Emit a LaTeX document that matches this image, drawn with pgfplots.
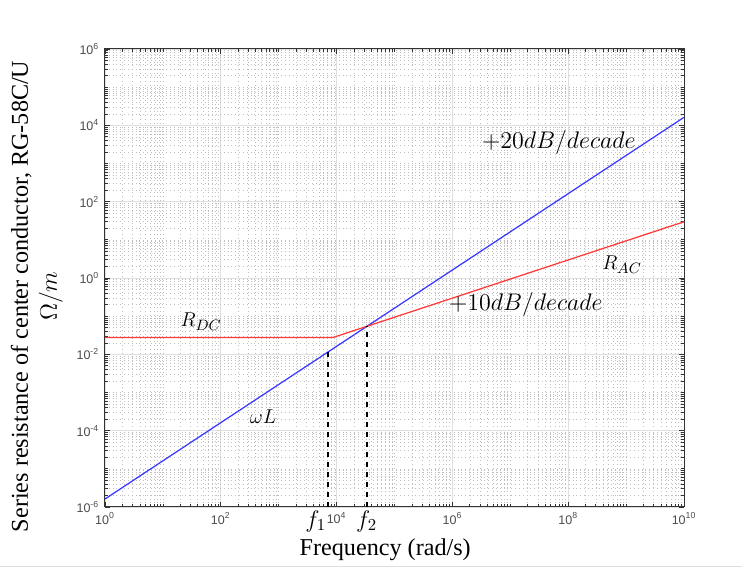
\documentclass[border=0pt]{standalone}
\usepackage{fontspec}
\setmainfont{Liberation Serif}
\newfontfamily\tickfont{Liberation Sans}
\usepackage{pgfplots}
\pgfplotsset{compat=1.18}

% minor tick positions (every 1..9 x 10^k that is not a major tick)
\def\mxt{2e0}
\foreach \m in {3,...,9}{\xdef\mxt{\mxt,\m e0}}
\foreach \k in {1,...,9}{%
  \ifodd\k\relax\xdef\mxt{\mxt,1e\k}\fi
  \foreach \m in {2,...,9}{\xdef\mxt{\mxt,\m e\k}}}
\def\myt{2e-6}
\foreach \m in {3,...,9}{\xdef\myt{\myt,\m e-6}}
\foreach \k in {-5,...,5}{%
  \ifodd\k\relax\xdef\myt{\myt,1e\k}\fi
  \foreach \m in {2,...,9}{\xdef\myt{\myt,\m e\k}}}

\definecolor{lblue}{rgb}{0.22,0.22,1}
\definecolor{lred}{rgb}{1,0.22,0.22}

\begin{document}
\begin{tikzpicture}
\begin{axis}[
  scale only axis, width=347.4pt, height=274.8pt,
  xmode=log, ymode=log, log basis x=10, log basis y=10,
  xmin=1, xmax=1e10, ymin=1e-6, ymax=1e6,
  xtick={1,1e2,1e4,1e6,1e8,1e10},
  ytick={1e-6,1e-4,1e-2,1,1e2,1e4,1e6},
  minor xtick/.expanded={\mxt},
  minor ytick/.expanded={\myt},
  grid=both,
  major grid style={gray!25, line width=0.5pt},
  minor grid style={gray!50, line width=0.35pt, dash pattern=on 0.4pt off 1.9pt},
  tick align=inside, tick pos=both,
  major tick length=3pt, minor tick length=1.6pt,
  tick style={black!80, line width=0.4pt},
  axis line style={black!80, line width=0.6pt},
  xticklabel={10\textsuperscript{\pgfmathprintnumber[fixed,precision=0,assume math mode=true]{\tick}}},
  yticklabel={10\textsuperscript{\pgfmathprintnumber[fixed,precision=0,assume math mode=true]{\tick}}},
  tick label style={font=\tickfont\fontsize{7.5}{9}\selectfont, text=black!70},
  label style={font=\fontsize{14.5}{17.4}\selectfont},
  xlabel={Frequency (rad/s)},
  xlabel style={at={(axis description cs:0.484,-0.094)}, anchor=center},
  ylabel={Series resistance of center conductor, RG-58C/U\\$\Omega/m$},
  ylabel style={at={(axis description cs:-0.072,0.46)}, anchor=south, align=center, inner sep=0pt},
  clip=false,
]
% omega L
\addplot[lblue, line width=0.75pt] coordinates {(1,1.62e-6) (1e10,1.62e4)};
% R_DC / R_AC
\addplot[lred, line width=0.75pt] coordinates {(1,0.0277) (8710,0.0277) (1e10,29.7)};
% corner frequencies
\addplot[black, dashed, line width=1pt] coordinates {(7080,1e-6) (7080,0.01147)};
\addplot[black, dashed, line width=1pt] coordinates {(33100,1e-6) (33100,0.0536)};

\node at (axis cs:6.9e7,3.5e3) {\fontsize{14.5}{16}\selectfont$+20dB/decade$};
\node at (axis cs:1.86e7,0.2) {\fontsize{14.5}{16}\selectfont$+10dB/decade$};
\node at (axis cs:8.5e8,2.24) {\fontsize{13}{15}\selectfont$R_{AC}$};
\node at (axis cs:45.7,0.071) {\fontsize{13}{15}\selectfont$R_{DC}$};
\node at (axis cs:537,2.3e-4) {\fontsize{13}{15}\selectfont$\omega L$};
\node at (axis cs:4370,4.2e-7) {\fontsize{14}{16}\selectfont$f_1$};
\node at (axis cs:33000,4.2e-7) {\fontsize{14}{16}\selectfont$f_2$};
\end{axis}
\pgfresetboundingbox
\path (current axis.south west) ++(-63pt,-37.2pt) coordinate (a);
\path (current axis.north east) ++(34.8pt,29.4pt) coordinate (b);
\path[use as bounding box] (a) rectangle (b);
\draw[gray!25, line width=0.6pt] ([yshift=1.2pt]a) -- ([yshift=1.2pt]a -| b);
\end{tikzpicture}
\end{document}
